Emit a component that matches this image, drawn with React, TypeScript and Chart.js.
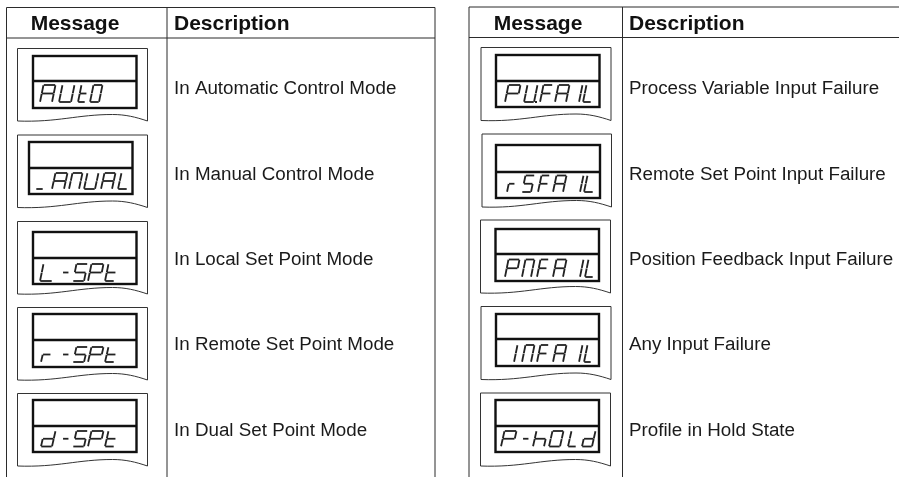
import React, { useEffect, useRef } from "react";
import { Chart, registerables } from "chart.js";

Chart.register(...registerables);

const headers = ["Message", "Description"];

const leftMessages = ["AUtO", "_ANUAL", "L-SPt", "r-SPt", "d-SPt"];
const leftDescriptions = [
  "In Automatic Control Mode",
  "In Manual Control Mode",
  "In Local Set Point Mode",
  "In Remote Set Point Mode",
  "In Dual Set Point Mode",
];
const rightMessages = ["PU.FAIL", "rSFAIL", "PNFAIL", "INFAIL", "P-hOLd"];
const rightDescriptions = [
  "Process Variable Input Failure",
  "Remote Set Point Input Failure",
  "Position Feedback Input Failure",
  "Any Input Failure",
  "Profile in Hold State",
];

// seven-segment map: a top, b upper right, c lower right, d bottom, e lower left, f upper left, g middle
const segmentMap: Record<string, string> = {
  A: "abcefg", U: "bcdef", t: "defg", O: "abcdef", _: "d", N: "abcef", L: "def",
  "-": "g", S: "acdfg", P: "abefg", r: "eg", d: "bcdeg", F: "aefg", I: "bc", h: "cefg",
};

type Cell = {
  frame: [number, number, number, number]; // left, right, top, right-end bottom
  lcd: [number, number, number, number, number]; // left, right, top, divider, bottom
  glyphTop: number; glyphBottom: number;
  xs: number[]; widths: number[];
};

const leftCells: Cell[] = [
  { frame: [17.5, 147.5, 48.5, 121], lcd: [33, 136.5, 56, 81, 108], glyphTop: 85, glyphBottom: 102,
    xs: [40, 59, 78, 90], widths: [12, 12, 7, 9] },
  { frame: [17.5, 147.5, 135, 207.5], lcd: [29, 132.5, 142, 168, 194], glyphTop: 173, glyphBottom: 189,
    xs: [36, 52, 69, 84, 101, 118], widths: [7, 12, 10, 11, 11, 9] },
  { frame: [17.5, 147.5, 221.5, 294], lcd: [33, 136.5, 232, 258, 284], glyphTop: 264, glyphBottom: 281,
    xs: [40, 61, 73, 88, 105], widths: [12, 6, 11, 12, 9] },
  { frame: [17.5, 147.5, 307.5, 380], lcd: [33, 136.5, 314, 340, 367], glyphTop: 347, glyphBottom: 362,
    xs: [41, 61, 73, 88, 105], widths: [8, 6, 11, 12, 9] },
  { frame: [17.5, 147.5, 393.5, 466], lcd: [33, 136.5, 400, 426, 452], glyphTop: 431, glyphBottom: 446.5,
    xs: [41, 61, 73, 88, 105], widths: [11, 6, 11, 12, 9] },
];

const rightCells: Cell[] = [
  { frame: [481, 611, 47.5, 120.5], lcd: [496, 599.5, 55, 81, 107], glyphTop: 85, glyphBottom: 102,
    xs: [505, 524, 535, 540, 555, 577, 583], widths: [12, 10, 1, 9, 11, 2, 8] },
  { frame: [482, 611.5, 134, 207], lcd: [496, 600, 145, 172, 198], glyphTop: 175.5, glyphBottom: 192,
    xs: [507, 522, 538, 553, 578, 584], widths: [6, 9, 8, 10, 2, 9] },
  { frame: [480.5, 610.5, 220, 293], lcd: [495.5, 599, 229, 254, 281], glyphTop: 259.5, glyphBottom: 277,
    xs: [505, 522, 537, 553, 578, 585], widths: [11, 9, 8, 10, 2, 8] },
  { frame: [481, 611, 306.5, 379.5], lcd: [496, 599, 314, 339, 366], glyphTop: 345, glyphBottom: 362,
    xs: [512, 522, 537, 553, 577, 584], widths: [2, 9, 8, 10, 2, 7] },
  { frame: [480.5, 610.5, 393, 466], lcd: [495.5, 599, 400, 426, 452], glyphTop: 431, glyphBottom: 446.5,
    xs: [501, 521, 533, 549, 568, 582], widths: [12, 6, 11, 11, 8, 10] },
];

const tables = [
  { left: 6.5, divider: 167, right: 435, top: 7.5, headerBottom: 38, msgX: 75, descX: 174,
    rowY: [89, 175, 260, 345, 431], messages: leftMessages, descriptions: leftDescriptions, cells: leftCells },
  { left: 469, divider: 622.5, right: 899, top: 7, headerBottom: 37.5, msgX: 538, descX: 629,
    rowY: [89, 175, 260, 345, 431], messages: rightMessages, descriptions: rightDescriptions, cells: rightCells },
];

const FONT = '"Liberation Sans", Arial, sans-serif';

const tablePlugin = {
  id: "tablePlugin",
  afterDatasetsDraw(chart: any) {
    const { ctx, scales } = chart;
    const X = (v: number) => scales.x.getPixelForValue(v);
    const Y = (v: number) => scales.y.getPixelForValue(v);
    const line = (x1: number, y1: number, x2: number, y2: number) => {
      ctx.beginPath();
      ctx.moveTo(X(x1), Y(y1));
      ctx.lineTo(X(x2), Y(y2));
      ctx.stroke();
    };
    ctx.save();
    ctx.lineCap = "butt";
    for (const t of tables) {
      // grid
      ctx.strokeStyle = "#2b2b2b";
      ctx.lineWidth = 1;
      line(t.left, t.top, t.right, t.top);
      line(t.left, t.headerBottom, t.right, t.headerBottom);
      line(t.left, t.top, t.left, 477);
      line(t.divider, t.top, t.divider, 477);
      if (t.right < 899) line(t.right, t.top, t.right, 477);

      // header
      ctx.fillStyle = "#111";
      ctx.textBaseline = "alphabetic";
      ctx.textAlign = "center";
      ctx.font = `bold 21px ${FONT}`;
      ctx.fillText(headers[0], X(t.msgX), Y(30));
      ctx.textAlign = "left";
      ctx.fillText(headers[1], X(t.descX), Y(30));

      // rows
      t.cells.forEach((c, i) => {
        ctx.fillStyle = "#1a1a1a";
        ctx.font = `18.8px ${FONT}`;
        ctx.textAlign = "left";
        ctx.textBaseline = "middle";
        ctx.fillText(t.descriptions[i], X(t.descX), Y(t.rowY[i]));

        // paper-edge frame
        const [fl, fr, ft, fb] = c.frame;
        ctx.strokeStyle = "#333";
        ctx.lineWidth = 1;
        ctx.beginPath();
        ctx.moveTo(X(fl), Y(fb));
        ctx.lineTo(X(fl), Y(ft));
        ctx.lineTo(X(fr), Y(ft));
        ctx.lineTo(X(fr), Y(fb));
        ctx.bezierCurveTo(X(fr - 12), Y(fb - 4), X(fr - 22), Y(fb - 6.5), X(fr - 35), Y(fb - 6.5));
        ctx.bezierCurveTo(X(fr - 70), Y(fb - 6.5), X(fr - 90), Y(fb + 1.5), X(fl), Y(fb));
        ctx.stroke();

        // LCD window
        const [ll, lr, lt, ld, lb] = c.lcd;
        ctx.strokeStyle = "#111";
        ctx.lineWidth = 2.4;
        ctx.strokeRect(X(ll), Y(lt), X(lr) - X(ll), Y(lb) - Y(lt));
        line(ll, ld, lr, ld);

        // seven-segment message
        ctx.strokeStyle = "#222";
        ctx.lineWidth = 1.8;
        const top = c.glyphTop, bot = c.glyphBottom, mid = (top + bot) / 2;
        const skew = 3.5;
        const sx = (x: number, y: number) => x + (skew * (bot - y)) / (bot - top);
        const seg = (x1: number, y1: number, x2: number, y2: number) =>
          line(sx(x1, y1), y1, sx(x2, y2), y2);
        t.messages[i].split("").forEach((ch, k) => {
          const x = c.xs[k];
          const w = c.widths[k];
          if (ch === ".") {
            ctx.fillStyle = "#222";
            ctx.fillRect(X(x), Y(bot - 1), 2, 2);
            return;
          }
          const s = segmentMap[ch] || "";
          const g = 0.3;
          if (s.includes("a")) seg(x + g, top, x + w - g, top);
          if (s.includes("b")) seg(x + w, top + g, x + w, mid - g);
          if (s.includes("c")) seg(x + w, mid + g, x + w, bot - g);
          if (s.includes("d")) seg(x + g, bot, x + w - g, bot);
          if (s.includes("e")) seg(x, mid + g, x, bot - g);
          if (s.includes("f")) seg(x, top + g, x, mid - g);
          if (s.includes("g")) seg(x + g, mid, x + w - g, mid);
        });
      });
    }
    ctx.restore();
  },
};

export default function App() {
  const ref = useRef<HTMLCanvasElement>(null);
  useEffect(() => {
    document.body.style.margin = "0";
    const chart = new Chart(ref.current!, {
      type: "scatter",
      data: { datasets: [{ data: [], pointRadius: 0 }] },
      options: {
        animation: false,
        responsive: false,
        layout: { padding: 0 },
        plugins: { legend: { display: false }, tooltip: { enabled: false }, title: { display: false } },
        scales: {
          x: { type: "linear", min: 0, max: 899, display: false },
          y: { type: "linear", min: 0, max: 477, reverse: true, display: false },
        },
      },
      plugins: [tablePlugin],
    });
    return () => chart.destroy();
  }, []);
  return (
    <div style={{ width: 899, height: 477, background: "#fff", overflow: "hidden" }}>
      <canvas ref={ref} width={899} height={477} style={{ display: "block" }} />
    </div>
  );
}
